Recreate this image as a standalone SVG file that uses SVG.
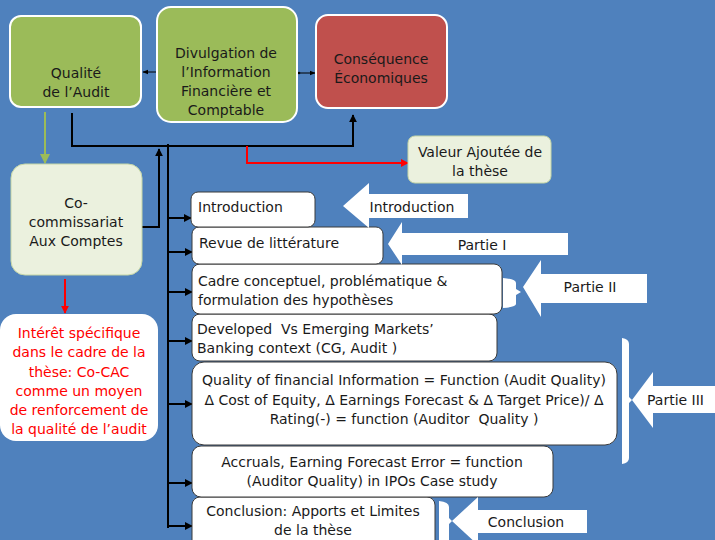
<svg xmlns="http://www.w3.org/2000/svg" width="715" height="540" viewBox="0 0 715 540">
<defs>
<marker id="ah" viewBox="0 0 10 10" refX="9" refY="5" markerWidth="4" markerHeight="4" orient="auto"><path d="M0,0 L10,5 L0,10 z" fill="#000"/></marker>
<marker id="ahs" viewBox="0 0 10 10" refX="9" refY="5" markerWidth="6" markerHeight="6" orient="auto"><path d="M0,1 L10,5 L0,9 z" fill="#000"/></marker>
<marker id="ahr" viewBox="0 0 10 10" refX="9" refY="5" markerWidth="4" markerHeight="4" orient="auto"><path d="M0,0 L10,5 L0,10 z" fill="#FF0000"/></marker>
<marker id="ahg" viewBox="0 0 10 10" refX="9" refY="5" markerWidth="5" markerHeight="5" orient="auto"><path d="M0,0 L10,5 L0,10 z" fill="#9BBB59"/></marker>
</defs>
<style>
text{font-family:"DejaVu Sans","Liberation Sans",sans-serif;font-size:14px;fill:#1a1a1a}
.c{text-anchor:middle}
.top{stroke:#fff;stroke-width:2}
.lt{fill:#EBF1DE;stroke:#C5D6A6;stroke-width:1}
.wb{fill:#fff;stroke:#3a3a3a;stroke-width:1}
text.r{fill:#FF0000}
.blk{stroke:#000;stroke-width:2;fill:none}
.wa{fill:#fff}
</style>
<rect width="715" height="540" fill="#4F81BD"/>

<g id="connectors">
<line x1="157" y1="72" x2="143" y2="72" stroke="#000" stroke-width="1" marker-end="url(#ahs)"/>
<line x1="298" y1="73" x2="315" y2="73" stroke="#000" stroke-width="1" marker-end="url(#ahs)"/>
<circle cx="299" cy="73" r="1.3" fill="#000"/>
<line x1="45" y1="112" x2="45" y2="163" stroke="#9BBB59" stroke-width="2" marker-end="url(#ahg)"/>
<line x1="65" y1="279" x2="65" y2="313" stroke="#FF0000" stroke-width="2" marker-end="url(#ahr)"/>
<path class="blk" d="M72,113 V146 H353 V115" marker-end="url(#ah)"/>
<path d="M247,146 V163 H408" stroke="#FF0000" stroke-width="2" fill="none" marker-end="url(#ahr)"/>
<path class="blk" d="M142,227 H159 V149" marker-end="url(#ah)"/>
<line class="blk" x1="168" y1="144" x2="168" y2="528"/>
<g stroke="#000" stroke-width="2" marker-end="url(#ah)">
<line x1="168" y1="218" x2="191" y2="218"/>
<line x1="168" y1="252" x2="192" y2="252"/>
<line x1="168" y1="292" x2="192" y2="292"/>
<line x1="168" y1="341" x2="192" y2="341"/>
<line x1="168" y1="404" x2="192" y2="404"/>
<line x1="168" y1="483" x2="192" y2="483"/>
<line x1="168" y1="526" x2="192" y2="526"/>
</g>
</g>

<g id="qualite">
<rect class="top" x="10" y="16" width="131" height="91" rx="11" fill="#9BBB59"/>
<text class="c" x="76" y="78">Qualité</text>
<text class="c" x="76" y="97">de l’Audit</text>
</g>
<g id="divulgation">
<rect class="top" x="157" y="7" width="140" height="115" rx="14" fill="#9BBB59"/>
<text class="c" x="226" y="58">Divulgation de</text>
<text class="c" x="226" y="77">l’Information</text>
<text class="c" x="226" y="96">Financière et</text>
<text class="c" x="226" y="115">Comptable</text>
</g>
<g id="consequence">
<rect class="top" x="316" y="15" width="131" height="93" rx="12" fill="#C0504D"/>
<text class="c" x="381" y="64">Conséquence</text>
<text class="c" x="381" y="83">Économiques</text>
</g>
<g id="valeur">
<rect class="lt" x="408" y="136" width="143" height="47" rx="7"/>
<text class="c" x="480" y="157">Valeur Ajoutée de</text>
<text class="c" x="480" y="176">la thèse</text>
</g>
<g id="cocac">
<rect class="lt" x="11" y="164" width="131" height="111" rx="14"/>
<text class="c" x="76" y="208">Co-</text>
<text class="c" x="76" y="227">commissariat</text>
<text class="c" x="76" y="246">Aux Comptes</text>
</g>
<g id="interet">
<rect x="0" y="314" width="158" height="127" rx="16" fill="#fff"/>
<text class="c r" x="79" y="338">Intérêt spécifique</text>
<text class="c r" x="79" y="357">dans le cadre de la</text>
<text class="c r" x="79" y="377">thèse: Co-CAC</text>
<text class="c r" x="79" y="396">comme un moyen</text>
<text class="c r" x="79" y="415">de renforcement de</text>
<text class="c r" x="79" y="434">la qualité de l’audit</text>
</g>

<g id="conclusion-box">
<rect class="wb" x="192" y="497" width="243" height="52" rx="8"/>
<text class="c" x="313" y="516">Conclusion: Apports et Limites</text>
<text class="c" x="313" y="535">de la thèse</text>
</g>
<g id="accruals">
<rect class="wb" x="192" y="446" width="361" height="51" rx="9"/>
<text class="c" x="372" y="467">Accruals, Earning Forecast Error = function</text>
<text class="c" x="372" y="486">(Auditor Quality) in IPOs Case study</text>
</g>
<g id="quality">
<rect class="wb" x="192" y="362" width="425" height="83" rx="12"/>
<text class="c" x="404" y="385">Quality of financial Information = Function (Audit Quality)</text>
<text class="c" x="404" y="405">Δ Cost of Equity, Δ Earnings Forecast &amp; Δ Target Price)/ Δ</text>
<text class="c" x="404" y="424" xml:space="preserve">Rating(-) = function (Auditor  Quality )</text>
</g>
<g id="developed">
<rect class="wb" x="192" y="314" width="305" height="47" rx="8"/>
<text x="197" y="334" xml:space="preserve">Developed  Vs Emerging Markets’</text>
<text x="197" y="353">Banking context (CG, Audit )</text>
</g>
<g id="cadre">
<rect class="wb" x="192" y="264" width="310" height="50" rx="8"/>
<text x="198" y="286">Cadre conceptuel, problématique &amp;</text>
<text x="198" y="305">formulation des hypothèses</text>
</g>
<g id="revue">
<rect class="wb" x="192" y="227" width="191" height="37" rx="7"/>
<text x="199" y="248">Revue de littérature</text>
</g>
<g id="introduction-box">
<rect class="wb" x="191" y="192" width="124" height="35" rx="7"/>
<text x="198" y="212">Introduction</text>
</g>

<g id="arrow-introduction">
<polygon class="wa" points="343,206 369,183 369,194 468,194 468,218 369,218 369,228"/>
<text class="c" x="412" y="212">Introduction</text>
</g>
<g id="arrow-partie1">
<polygon class="wa" points="388,244 402,222 402,233 568,233 568,255 402,255 402,265"/>
<text class="c" x="482" y="250">Partie I</text>
</g>
<g id="arrow-partie2">
<path class="wa" d="M503,278 Q516,279 516,283 V289 L521,292 L516,295 V304 Q516,307 503,308 Z"/>
<polygon class="wa" points="523,287 541,260 541,274 647,274 647,303 541,303 541,317"/>
<text class="c" x="590" y="292">Partie II</text>
</g>
<g id="arrow-partie3">
<path class="wa" d="M622,338 Q629,339 629,344 V397 L632,400 L629,403 V458 Q629,463 622,464 Z"/>
<polygon class="wa" points="632,400 653,372 653,386 715,386 715,413 653,413 653,428"/>
<text x="647" y="405">Partie III</text>
</g>
<g id="arrow-conclusion">
<path class="wa" d="M439,501 Q449,502 449,507 V518 L452,521 L449,524 V540 H439 Z"/>
<polygon class="wa" points="452,521 478,497 478,510 587,510 587,533 478,533 478,545"/>
<text class="c" x="526" y="527">Conclusion</text>
</g>
</svg>
